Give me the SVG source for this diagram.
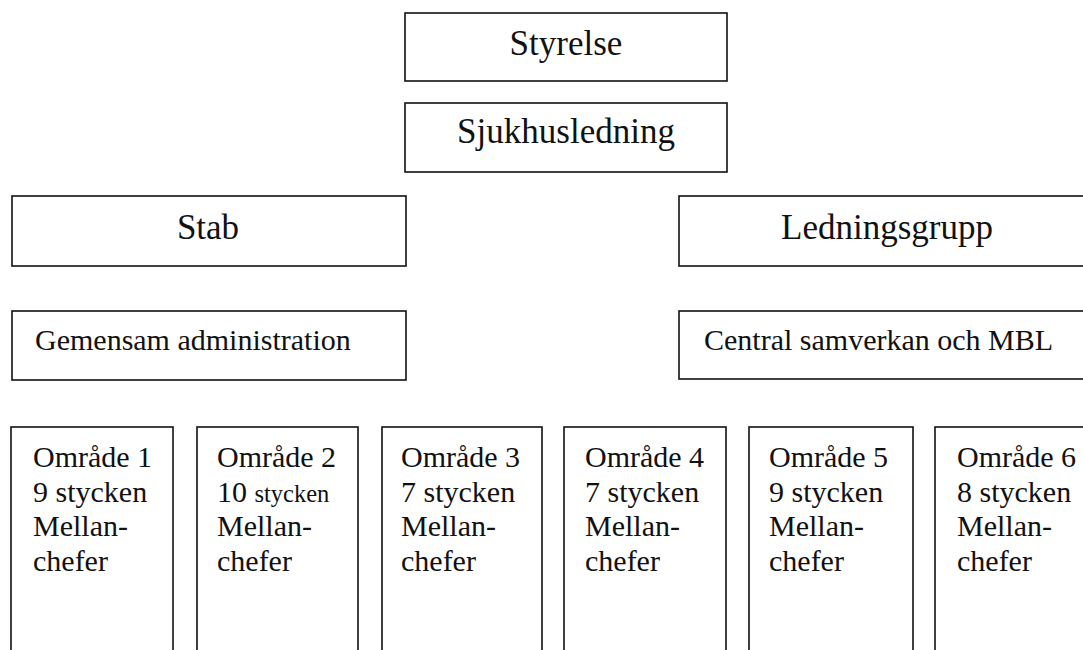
<svg xmlns="http://www.w3.org/2000/svg" width="1083" height="650" viewBox="0 0 1083 650">
<style>
.box{fill:#fff;stroke:#111;stroke-width:1.6}
text{font-family:"Liberation Serif","Times New Roman",serif;fill:#111}
.big{font-size:35px}
.mid{font-size:30px}
.sm{font-size:30px}
</style>
<rect width="1083" height="650" fill="#fff"/>
<g id="connectors"></g>
<g id="styrelse"><rect class="box" x="405" y="13" width="322" height="68"/><text class="big" x="566" y="55" text-anchor="middle">Styrelse</text></g>
<g id="sjukhusledning"><rect class="box" x="405" y="103" width="322" height="69"/><text class="big" x="566" y="143" text-anchor="middle">Sjukhusledning</text></g>
<g id="stab"><rect class="box" x="12" y="196" width="394" height="70"/><text class="big" x="208" y="239" text-anchor="middle">Stab</text></g>
<g id="ledningsgrupp"><rect class="box" x="679" y="196" width="420" height="70"/><text class="big" x="887" y="239" text-anchor="middle">Ledningsgrupp</text></g>
<g id="gemensam"><rect class="box" x="12" y="311" width="394" height="69"/><text class="mid" x="35" y="350">Gemensam administration</text></g>
<g id="central"><rect class="box" x="679" y="311" width="420" height="68"/><text class="mid" x="704" y="350">Central samverkan och MBL</text></g>
<g id="omr1"><rect class="box" x="11" y="427" width="162" height="240"/><text class="sm" x="33" y="467">Område 1<tspan x="33" dy="34.5">9 stycken</tspan><tspan x="33" dy="34.5">Mellan-</tspan><tspan x="33" dy="34.5">chefer</tspan></text></g>
<g id="omr2"><rect class="box" x="197" y="427" width="161" height="240"/><text class="sm" x="217" y="467">Område 2<tspan x="217" dy="34.5">10 <tspan font-size="24.5">stycken</tspan></tspan><tspan x="217" dy="34.5">Mellan-</tspan><tspan x="217" dy="34.5">chefer</tspan></text></g>
<g id="omr3"><rect class="box" x="382" y="427" width="160" height="240"/><text class="sm" x="401" y="467">Område 3<tspan x="401" dy="34.5">7 stycken</tspan><tspan x="401" dy="34.5">Mellan-</tspan><tspan x="401" dy="34.5">chefer</tspan></text></g>
<g id="omr4"><rect class="box" x="564" y="427" width="162" height="240"/><text class="sm" x="585" y="467">Område 4<tspan x="585" dy="34.5">7 stycken</tspan><tspan x="585" dy="34.5">Mellan-</tspan><tspan x="585" dy="34.5">chefer</tspan></text></g>
<g id="omr5"><rect class="box" x="749" y="427" width="164" height="240"/><text class="sm" x="769" y="467">Område 5<tspan x="769" dy="34.5">9 stycken</tspan><tspan x="769" dy="34.5">Mellan-</tspan><tspan x="769" dy="34.5">chefer</tspan></text></g>
<g id="omr6"><rect class="box" x="935" y="427" width="180" height="240"/><text class="sm" x="957" y="467">Område 6<tspan x="957" dy="34.5">8 stycken</tspan><tspan x="957" dy="34.5">Mellan-</tspan><tspan x="957" dy="34.5">chefer</tspan></text></g>
</svg>
